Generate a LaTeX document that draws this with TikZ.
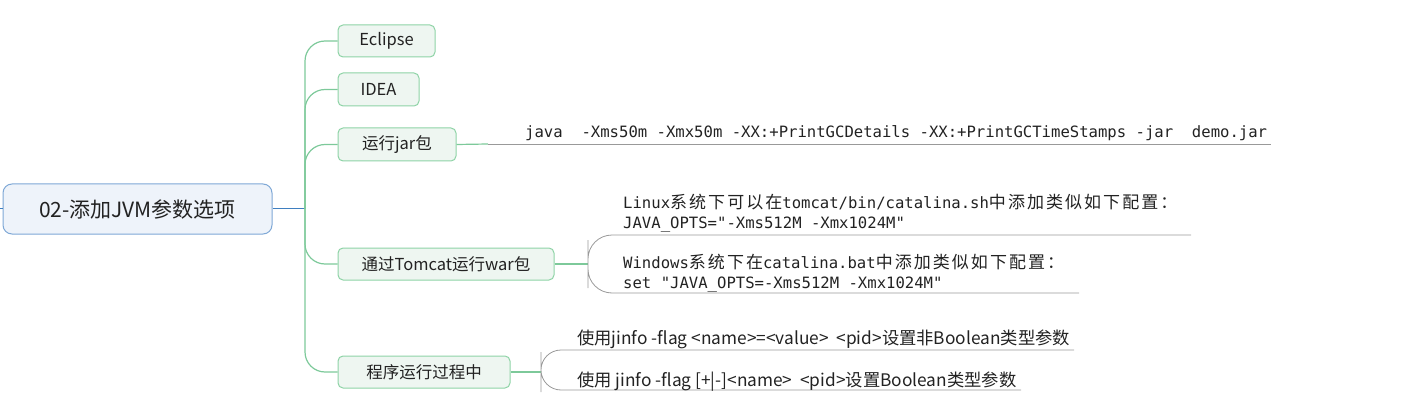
\documentclass[tikz,border=0pt]{standalone}
\usepackage{fontspec}
\setmainfont{Noto Sans CJK SC}
\newfontfamily\cjk{Noto Sans CJK SC}[LetterSpace=12]
\newfontfamily\mono{DejaVu Sans Mono}
\definecolor{gline}{HTML}{7DC99A}
\definecolor{gborder}{HTML}{8ED3A6}
\definecolor{gfill}{HTML}{EEF6F1}
\definecolor{bline}{HTML}{3F7FC0}
\definecolor{bborder}{HTML}{7FA8D6}
\definecolor{bfill}{HTML}{EEF3FA}
\definecolor{txt}{HTML}{222222}
\definecolor{uline}{HTML}{999999}
\tikzset{
  rootbox/.style={draw=bborder, fill=bfill, line width=1pt, rounded corners=9pt, inner sep=0pt, text=txt, font=\fontsize{21}{24}\selectfont},
  branchbox/.style={draw=gborder, fill=gfill, line width=1pt, rounded corners=5pt, inner sep=0pt, text=txt, font=\fontsize{16.5}{19}\selectfont},
  gconn/.style={draw=gline, line width=1.2pt},
  bconn/.style={draw=bline, line width=1pt},
  ucon/.style={draw=uline, line width=0.8pt},
  monotxt/.style={anchor=base west, inner sep=0pt, text=txt, font=\mono\fontsize{15.6}{20}\selectfont},
  sanstxt/.style={anchor=base west, inner sep=0pt, text=txt, font=\fontsize{17.3}{20}\selectfont},
}
\newcommand{\cj}[1]{{\cjk\fontsize{17}{20}\selectfont #1}}
\begin{document}
\begin{tikzpicture}[x=1pt,y=-1pt]
\useasboundingbox (0,0) rectangle (1413,414);
% root
\node[rootbox, minimum width=269pt, minimum height=50pt] (root) at (137.5,209) {02-添加JVM参数选项};
\coordinate (lstub) at (0,209);
\coordinate (hub) at (305,209);
\draw[bconn] (root.west) -- (lstub);
\draw[bconn] (root.east) -- (hub);
% branches
\node[branchbox, minimum width=97pt, minimum height=32pt] (eclipse) at (386.5,41) {Eclipse};
\node[branchbox, minimum width=81pt, minimum height=33pt] (idea) at (378.5,89.5) {IDEA};
\node[branchbox, minimum width=118pt, minimum height=33pt] (jar) at (397,144.5) {运行jar包};
\node[branchbox, minimum width=216pt, minimum height=32pt] (tomcat) at (446,264) {通过Tomcat运行war包};
\node[branchbox, minimum width=172pt, minimum height=32pt] (runtime) at (424,372) {程序运行过程中};
\foreach \n in {eclipse,idea,jar,tomcat,runtime}
  \draw[gconn, rounded corners=20pt] (hub) |- (\n.west);
% jar detail
\coordinate (jarA) at (488,144);
\coordinate (jarB) at (1271,144);
\draw[gconn] (jar.east) -- (jarA);
\draw[ucon] (jarA) -- (jarB);
\node[monotxt] (jartext) at (525,138) {java\ \ -Xms50m -Xmx50m -XX:+PrintGCDetails -XX:+PrintGCTimeStamps -jar\ \ demo.jar};
% tomcat detail
\coordinate (tcA) at (588,264);
\coordinate (tcT) at (1191,235);
\coordinate (tcB) at (1079,293);
\draw[gconn] (tomcat.east) -- (tcA);
\draw[ucon, rounded corners=24pt] (tcT) -| (tcA) |- (tcB);
\node[monotxt] (lin1) at (623,209) {Linux\cj{系统下可以在}tomcat/bin/catalina.sh\cj{中添加类似如下配置：}};
\node[monotxt] (lin2) at (623,229) {JAVA\_OPTS="-Xms512M -Xmx1024M"};
\node[monotxt] (win1) at (623,268) {Windows\cj{系统下在}catalina.bat\cj{中添加类似如下配置：}};
\node[monotxt] (win2) at (623,288) {set "JAVA\_OPTS=-Xms512M -Xmx1024M"};
% runtime detail
\coordinate (rtA) at (541,372);
\coordinate (rtT) at (1074,350);
\coordinate (rtB) at (1021,390);
\draw[gconn] (runtime.east) -- (rtA);
\draw[ucon, rounded corners=20pt] (rtT) -| (rtA) |- (rtB);
\node[sanstxt] (rt1) at (577,344) {使用jinfo -flag <name>=<value>\ \ <pid>设置非Boolean类型参数};
\node[sanstxt] (rt2) at (577,386) {使用 jinfo -flag [+|-]<name>\ \ <pid>设置Boolean类型参数};
\end{tikzpicture}
\end{document}
